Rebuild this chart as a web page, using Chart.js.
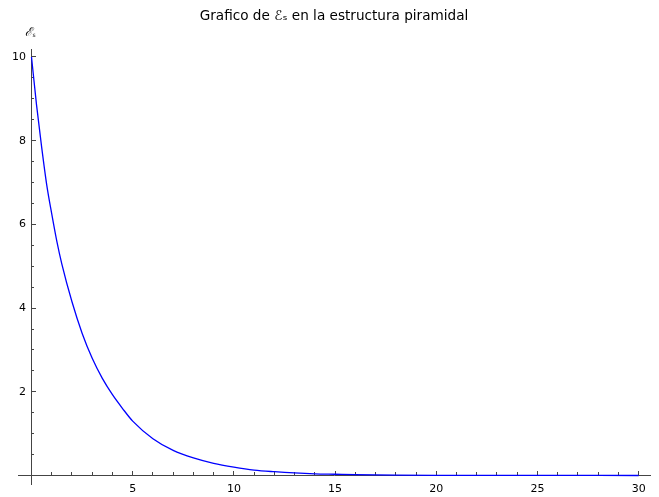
<!DOCTYPE html>
<html>
<head>
<meta charset="utf-8">
<script src="https://cdn.jsdelivr.net/npm/chart.js@4/dist/chart.umd.min.js"></script>
<style>
  body { margin: 0; background: #fff; }
  #plot { display: block; }
</style>
</head>
<body>
<canvas id="plot" width="659" height="497"></canvas>
<script>
// values
const xs = [0, 0.25, 0.5, 0.75, 1, 1.25, 1.5, 2, 2.5, 3, 3.5, 4, 4.5, 5, 6, 7, 8, 9, 10, 11, 12, 13, 14, 15, 16, 18, 20, 22, 25, 28, 30];
const ys = [10, 8.85, 7.85, 6.95, 6.25, 5.6, 5.05, 4.15, 3.4, 2.8, 2.32, 1.93, 1.6, 1.3, 0.88, 0.6, 0.42, 0.29, 0.2, 0.13, 0.09, 0.06, 0.04, 0.03, 0.02, 0.01, 0.005, 0.003, 0.001, 0.0005, 0.0002];
const xMajor = [5, 10, 15, 20, 25, 30];
const yMajor = [2, 4, 6, 8, 10];

const axisColor = '#444';
const tickFont = {family: 'DejaVu Sans', size: 11};

const points = xs.map((x, i) => ({x: x, y: ys[i]}));

// small label at the top of the vertical axis
const yLabel = {
  id: 'yLabel',
  afterDraw(chart) {
    const ctx = chart.ctx;
    const px = chart.scales.x.getPixelForValue(0);
    ctx.save();
    ctx.fillStyle = '#000';
    ctx.font = 'italic 12px "DejaVu Serif"';
    ctx.textAlign = 'right';
    ctx.textBaseline = 'alphabetic';
    ctx.fillText('ℰ', px + 1, chart.chartArea.top - 13);
    ctx.font = '6px "DejaVu Sans"';
    ctx.textAlign = 'left';
    ctx.fillText('s', px + 1, chart.chartArea.top - 12);
    ctx.restore();
  }
};

new Chart(document.getElementById('plot'), {
  type: 'line',
  data: {
    datasets: [{
      data: points,
      borderColor: '#0000ff',
      borderWidth: 1.3,
      pointRadius: 0,
      cubicInterpolationMode: 'monotone',
      fill: false
    }]
  },
  options: {
    responsive: false,
    animation: false,
    layout: {autoPadding: false, padding: {left: 18, right: 9, top: 0, bottom: 9}},
    plugins: {
      legend: {display: false},
      tooltip: {enabled: false},
      title: {
        display: true,
        text: 'Grafico de ℰₛ en la estructura piramidal',
        color: '#000',
        font: {family: 'DejaVu Sans', size: 13.6, weight: 'normal', lineHeight: 1.2},
        padding: {top: 8, bottom: 24.7}
      }
    },
    scales: {
      x: {
        type: 'linear',
        position: {y: 0},
        min: -0.667,
        max: 30.56,
        border: {display: true, color: axisColor, width: 1},
        grid: {drawOnChartArea: false, color: axisColor, tickLength: -5},
        ticks: {
          includeBounds: false,
          stepSize: 5,
          padding: 12,
          color: '#000',
          font: tickFont,
          maxRotation: 0,
          autoSkip: false,
          callback: v => xMajor.includes(v) ? String(v) : ''
        }
      },
      x2: {
        type: 'linear',
        axis: 'x',
        position: {y: 0},
        min: -0.667,
        max: 30.56,
        border: {display: false},
        grid: {drawOnChartArea: false, color: axisColor, tickLength: -3},
        ticks: {includeBounds: false, stepSize: 1, autoSkip: false, display: false}
      },
      y: {
        type: 'linear',
        position: {x: 0},
        min: -0.213,
        max: 10.19,
        border: {display: true, color: axisColor, width: 1},
        grid: {drawOnChartArea: false, color: axisColor, tickLength: -5},
        ticks: {
          includeBounds: false,
          stepSize: 2,
          padding: 6,
          color: '#000',
          font: tickFont,
          autoSkip: false,
          callback: v => yMajor.includes(v) ? v + '\u2002' : ''
        }
      },
      y2: {
        type: 'linear',
        axis: 'y',
        position: {x: 0},
        min: -0.213,
        max: 10.19,
        border: {display: false},
        grid: {drawOnChartArea: false, color: axisColor, tickLength: -3},
        ticks: {includeBounds: false, stepSize: 0.5, autoSkip: false, display: false}
      }
    }
  },
  plugins: [yLabel]
});
</script>
</body>
</html>
